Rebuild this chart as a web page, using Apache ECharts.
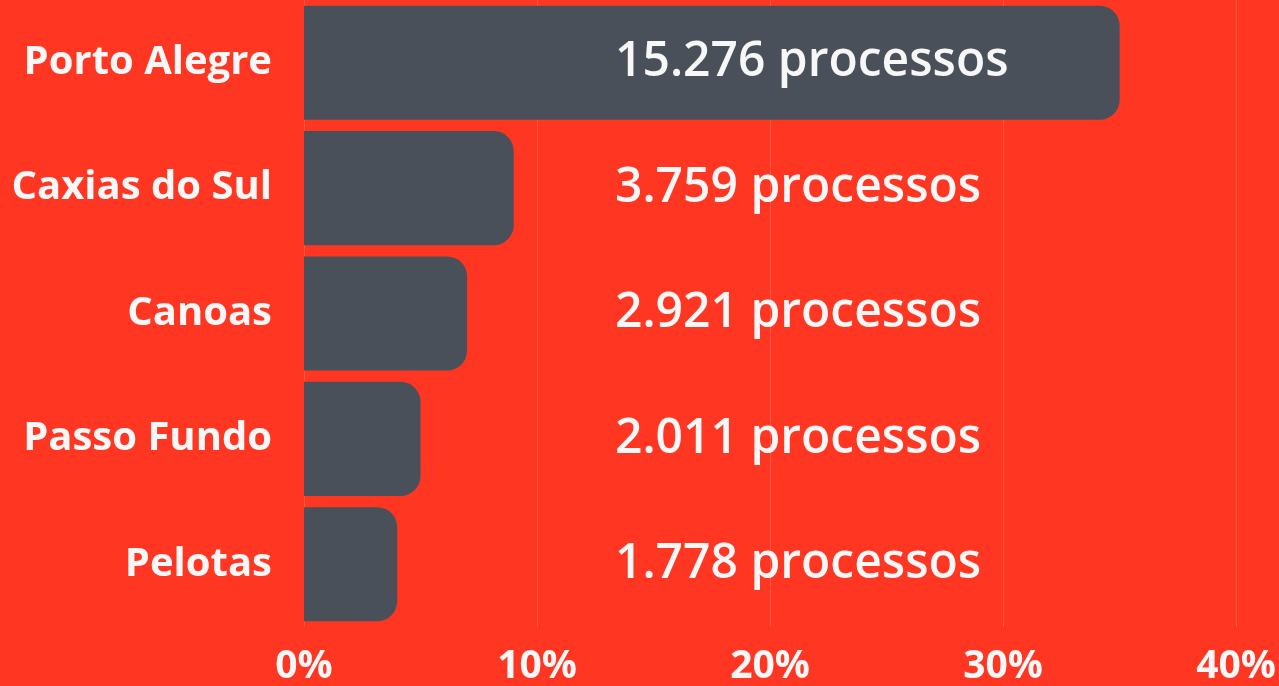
<!DOCTYPE html>
<html>
<head>
<meta charset="utf-8">
<script src="https://cdn.jsdelivr.net/npm/echarts@6/dist/echarts.min.js"></script>
<style>
  html, body { margin: 0; padding: 0; background: #FF3622; }
  #main { width: 1279px; height: 686px; }
</style>
</head>
<body>
<div id="main"></div>
<script>
// cidades, de baixo pra cima no eixo
let cidades = ["Pelotas", "Passo Fundo", "Canoas", "Caxias do Sul", "Porto Alegre"]
let percentuais = [4.0, 5.0, 7.0, 9.0, 35.0]
let processos = ["1.778", "2.011", "2.921", "3.759", "15.276"]
let ticksX = [0, 10, 20, 30, 40]

var myChart = echarts.init(document.getElementById('main'))
var option = {
    backgroundColor: '#FF3622',
    animation: false,
    grid: { left: 304, right: 41, top: -2, bottom: 59 },
    xAxis: {
      type: 'value',
      min: ticksX[0],
      max: ticksX[ticksX.length - 1],
      interval: 10,
      axisLine: { show: false },
      axisTick: { show: false },
      splitLine: { show: true, lineStyle: { color: 'rgba(255,255,255,0.16)', width: 1 } },
      axisLabel: {
        formatter: '{value}%',
        color: '#F7F7F7',
        fontFamily: 'Open Sans',
        fontWeight: 'bold',
        fontSize: 39,
        margin: 20
      }
    },
    yAxis: {
      type: 'category',
      data: cidades,
      axisLine: { show: false },
      axisTick: { show: false },
      axisLabel: {
        color: '#F7F7F7',
        fontFamily: 'Open Sans',
        fontWeight: 'bold',
        fontSize: 40,
        margin: 32
      }
    },
    series: [
      {
        type: 'bar',
        data: percentuais,
        barCategoryGap: '9%',
        itemStyle: { color: '#4A5059', borderRadius: [0, 20, 20, 0] },
        label: {
          show: true,
          position: [311, '50%'],
          verticalAlign: 'middle',
          formatter: p => processos[p.dataIndex] + ' processos',
          color: '#F7F7F7',
          fontFamily: 'Open Sans',
          fontWeight: 600,
          fontSize: 48
        }
      }
    ]
};
myChart.setOption(option)
</script>
</body>
</html>
